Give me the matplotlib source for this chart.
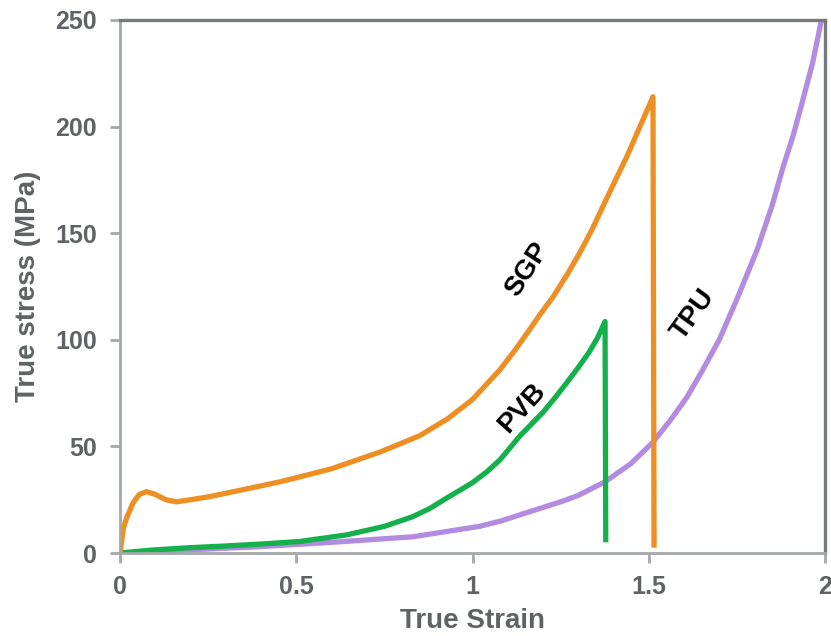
import matplotlib
matplotlib.use('Agg')
import matplotlib.pyplot as plt

# Curvas tension-deformacion verdaderas de los intercalarios
sgp_x = [0, 0.01, 0.02, 0.037, 0.055, 0.075, 0.1, 0.13, 0.16, 0.2, 0.25, 0.32, 0.4, 0.454,
         0.51, 0.6, 0.74, 0.85, 0.93, 1.0, 1.05, 1.078, 1.12, 1.163, 1.19, 1.228, 1.27,
         1.305, 1.34, 1.37, 1.4, 1.438, 1.475, 1.512, 1.515]
sgp_y = [0, 12, 17, 23.5, 27.5, 28.8, 27.5, 25, 24, 25, 26.3, 28.7, 31.5, 33.4,
         35.7, 39.5, 47.5, 55, 63, 72, 81, 86, 95, 105, 111.5, 120, 131,
         141, 152, 162.6, 173, 186, 200, 214, 2.5]

pvb_x = [0, 0.1, 0.2, 0.3, 0.4, 0.51, 0.643, 0.75, 0.83, 0.88, 0.927, 0.965, 1.0, 1.04,
         1.078, 1.135, 1.2, 1.235, 1.268, 1.3, 1.33, 1.355, 1.376, 1.378]
pvb_y = [0, 1.5, 2.5, 3.3, 4.2, 5.4, 8.5, 12.5, 17, 21, 25.8, 29.5, 33, 38,
         43.7, 55, 66, 73, 80, 87, 94, 101, 108.6, 5]

tpu_x = [0, 0.2, 0.4, 0.6, 0.83, 1.02, 1.08, 1.155, 1.25, 1.3, 1.376, 1.45, 1.512, 1.56,
         1.608, 1.65, 1.7, 1.75, 1.807, 1.85, 1.881, 1.91, 1.938, 1.965, 1.99]
tpu_y = [0, 1.5, 3, 5, 7.6, 12.5, 15, 19, 24, 27, 33.4, 42, 52, 62,
         73, 85, 100, 119, 142, 163, 181, 196, 213, 230, 250]

x_ticks = [0, 0.5, 1, 1.5, 2]
x_tick_labels = ['0', '0.5', '1', '1.5', '2']
y_ticks = [0, 50, 100, 150, 200, 250]

c_sgp = '#EE8F24'
c_pvb = '#14B04B'
c_tpu = '#B38BE0'
gris = '#5F6366'

plt.rcParams['font.family'] = ['Liberation Sans', 'DejaVu Sans']

fig = plt.figure(figsize=(8.31, 6.36), dpi=100)
ax = fig.add_axes([0.1444, 0.1305, 0.8484, 0.8381])

ax.plot(tpu_x, tpu_y, color=c_tpu, lw=3.8, solid_capstyle='butt')
ax.plot(pvb_x, pvb_y, color=c_pvb, lw=3.8, solid_capstyle='butt')
ax.plot(sgp_x, sgp_y, color=c_sgp, lw=3.8, solid_capstyle='butt')

# Etiquetas de cada curva
ax.text(1.155, 133, 'SGP', rotation=57, fontsize=20, fontweight='bold',
        ha='center', va='center')
ax.text(1.14, 68, 'PVB', rotation=48, fontsize=20, fontweight='bold',
        ha='center', va='center')
ax.text(1.626, 112, 'TPU', rotation=54, fontsize=20, fontweight='bold',
        ha='center', va='center')

ax.set_xlim(0, 2)
ax.set_ylim(0, 250)
ax.set_xticks(x_ticks)
ax.set_xticklabels(x_tick_labels)
ax.set_yticks(y_ticks)

for s in ['left', 'bottom']:
    ax.spines[s].set_color('#A3A8A8')
    ax.spines[s].set_linewidth(2)
for s in ['top', 'right']:
    ax.spines[s].set_color('#767A7A')
    ax.spines[s].set_linewidth(2.4)

ax.tick_params(axis='both', colors='#A3A8A8', width=2, labelcolor=gris,
               labelsize=18)
ax.tick_params(axis='y', length=7.5, pad=9)
ax.tick_params(axis='x', length=7, pad=9)
for lab in ax.get_xticklabels() + ax.get_yticklabels():
    lab.set_fontweight('bold')

ax.set_xlabel('True Strain', fontsize=20, fontweight='bold', color=gris, labelpad=6)
ax.set_ylabel('True stress (MPa)', fontsize=20, fontweight='bold', color=gris, labelpad=10)

fig.savefig('out.png', dpi=100)
